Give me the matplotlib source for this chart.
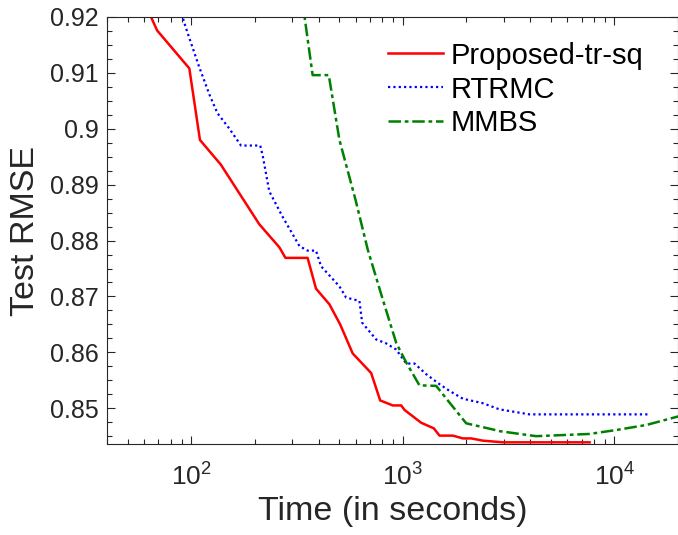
import numpy as np
import matplotlib
matplotlib.use("Agg")
import matplotlib.pyplot as plt
from matplotlib.ticker import LogLocator, MultipleLocator, FixedLocator

plt.rcParams["font.family"] = ["Liberation Sans", "DejaVu Sans"]
plt.rcParams["mathtext.fontset"] = "custom"
plt.rcParams["mathtext.rm"] = "Liberation Sans"
plt.rcParams["mathtext.it"] = "Liberation Sans:italic"
plt.rcParams["mathtext.bf"] = "Liberation Sans:bold"

# values
tr_sq_time = [62, 69, 98, 110, 138, 210, 261, 279, 355, 389, 450, 506, 580, 709,
              782, 897, 983, 1019, 1222, 1402, 1492, 1726, 1924, 2108, 2390, 2972, 7640]
tr_sq_rmse = [0.9215, 0.9176, 0.9108, 0.8980, 0.8936, 0.8829, 0.8788, 0.8769, 0.8769,
              0.8714, 0.8686, 0.8650, 0.8598, 0.8563, 0.8514, 0.8505, 0.8505, 0.8497,
              0.8474, 0.8464, 0.8451, 0.8451, 0.8446, 0.8446, 0.8442, 0.8439, 0.8439]

rtrmc_time = [90, 94.5, 109, 122, 133, 151, 172, 212, 218, 234, 270, 325, 355, 389,
              411, 502, 540, 624, 643, 749, 835, 931, 1038, 1136, 1290, 1492, 1664,
              1924, 2390, 2864, 3972, 14420]
rtrmc_rmse = [0.9206, 0.9180, 0.9111, 0.9061, 0.9028, 0.9001, 0.8970, 0.8970, 0.8951,
              0.8888, 0.8843, 0.8790, 0.8782, 0.8782, 0.8754, 0.8718, 0.8698, 0.8692,
              0.8653, 0.8623, 0.8616, 0.8605, 0.8580, 0.8580, 0.8561, 0.8543, 0.8531,
              0.8517, 0.8509, 0.8498, 0.8489, 0.8489]

mmbs_time = [335, 375, 447, 502, 598, 683, 804, 931, 1038, 1199, 1439, 1664, 1995,
             2667, 2864, 4272, 7640, 10210, 14160, 19900, 22000]
mmbs_rmse = [0.9230, 0.9096, 0.9096, 0.8980, 0.8873, 0.8784, 0.8695, 0.8617, 0.8582,
             0.8541, 0.8540, 0.8510, 0.8473, 0.8462, 0.8459, 0.8450, 0.8454, 0.8461,
             0.8470, 0.8485, 0.8490]

dark = "#262626"

fig = plt.figure(figsize=(6.78, 5.35), dpi=100)
ax = fig.add_axes([107 / 678, 91 / 535, 571 / 678, 427 / 535])

ax.plot(tr_sq_time, tr_sq_rmse, color="#ff0000", lw=1.8, label="Proposed-tr-sq")
ax.plot(rtrmc_time, rtrmc_rmse, color="#0000ff", lw=1.6, linestyle=(0, (1, 1.4)),
        label="RTRMC")
ax.plot(mmbs_time, mmbs_rmse, color="#008000", lw=1.8, linestyle=(0, (5, 1.5, 1.5, 1.5)),
        label="MMBS")

ax.set_xscale("log")
ax.set_xlim(40, 2e4)
ax.set_ylim(0.8436, 0.92)
ax.yaxis.set_major_locator(FixedLocator([0.85, 0.86, 0.87, 0.88, 0.89, 0.90, 0.91, 0.92]))
ax.set_yticklabels(["0.85", "0.86", "0.87", "0.88", "0.89", "0.9", "0.91", "0.92"])
ax.yaxis.set_minor_locator(MultipleLocator(0.0025))
ax.xaxis.set_major_locator(LogLocator(base=10))
ax.xaxis.set_minor_locator(LogLocator(base=10, subs=np.arange(2, 10)))

ax.tick_params(which="both", direction="in", top=True, right=True, colors=dark,
               labelsize=18, pad=6)
ax.tick_params(which="major", length=6, width=0.8)
ax.tick_params(which="minor", length=3.5, width=0.8)
ax.tick_params(axis="x", which="major", labelsize=19, pad=14)
for s in ax.spines.values():
    s.set_color(dark)
    s.set_linewidth(0.8)

ax.set_xlabel("Time (in seconds)", fontsize=24.5, color=dark, labelpad=4)
ax.set_ylabel("Test RMSE", fontsize=24.5, color=dark, labelpad=6)

ax.legend(loc="upper right", frameon=False, fontsize=21, handlelength=1.9,
          handletextpad=0.25, labelspacing=0.2, borderaxespad=0.3,
          bbox_to_anchor=(0.975, 0.99))

fig.savefig("out.png", dpi=100)
